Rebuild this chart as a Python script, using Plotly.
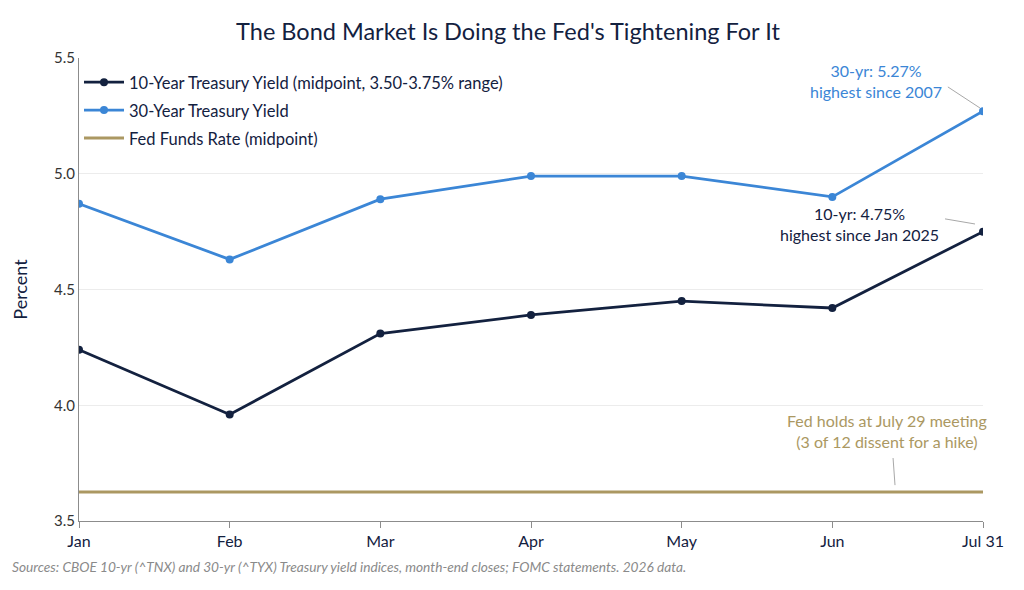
import plotly.graph_objects as go

months = ["Jan", "Feb", "Mar", "Apr", "May", "Jun", "Jul 31"]
ten_year = [4.24, 3.96, 4.31, 4.39, 4.45, 4.42, 4.75]
thirty_year = [4.87, 4.63, 4.89, 4.99, 4.99, 4.90, 5.27]
fed_funds = [3.625] * len(months)
y_ticks = [3.5, 4.0, 4.5, 5.0, 5.5]

NAVY = "#13213f"
BLUE = "#3b86d6"
GOLD = "#ab9862"
FONT = "Lato"

xs = list(range(len(months)))

fig = go.Figure()
fig.add_trace(go.Scatter(x=xs, y=ten_year, mode="lines+markers", legendgroup="a",
                         name="10-Year Treasury Yield (midpoint, 3.50-3.75% range)",
                         line=dict(color=NAVY, width=2.8), marker=dict(size=8, color=NAVY)))
fig.add_trace(go.Scatter(x=xs, y=thirty_year, mode="lines+markers", legendgroup="b",
                         name="30-Year Treasury Yield",
                         line=dict(color=BLUE, width=2.8), marker=dict(size=8, color=BLUE)))
fig.add_trace(go.Scatter(x=xs, y=fed_funds, mode="lines", legendgroup="c",
                         name="Fed Funds Rate (midpoint)",
                         line=dict(color=GOLD, width=3)))

# callout text
fig.add_annotation(x=5.29, y=5.40, text="30-yr: 5.27%<br>highest since 2007",
                   showarrow=False, font=dict(color=BLUE, size=16, family=FONT))
fig.add_annotation(x=5.18, y=4.785, text="10-yr: 4.75%<br>highest since Jan 2025",
                   showarrow=False, font=dict(color=NAVY, size=16, family=FONT))
fig.add_annotation(x=5.363, y=3.889, text="Fed holds at July 29 meeting<br>(3 of 12 dissent for a hike)",
                   showarrow=False, font=dict(color=GOLD, size=16, family=FONT))

# leader lines
for x0, y0, x1, y1 in [(5.767, 5.375, 5.98, 5.284),
                       (5.748, 4.805, 5.947, 4.783),
                       (5.403, 3.772, 5.416, 3.655)]:
    fig.add_shape(type="line", x0=x0, y0=y0, x1=x1, y1=y1,
                  line=dict(color="#a8a8a8", width=1))

fig.add_annotation(x=-0.076, y=-0.099, xref="paper", yref="paper", xanchor="left", yanchor="middle",
                   text="<i>Sources: CBOE 10-yr (^TNX) and 30-yr (^TYX) Treasury yield indices, month-end closes; FOMC statements. 2026 data.</i>",
                   showarrow=False, font=dict(color="#8a8a8a", size=13.7, family=FONT))

fig.update_layout(
    width=1008, height=574,
    paper_bgcolor="white", plot_bgcolor="white",
    margin=dict(l=71, r=33, t=50, b=61),
    font=dict(family=FONT, color=NAVY, size=14),
    title=dict(text="The Bond Market Is Doing the Fed's Tightening For It",
               x=0.496, xanchor="center", y=0.958, yanchor="middle",
               font=dict(size=23.5, color=NAVY, family=FONT)),
    legend=dict(x=0.0, y=0.985, xanchor="left", yanchor="top",
                bgcolor="rgba(255,255,255,0)", font=dict(size=16.5, color=NAVY),
                itemwidth=40, traceorder="grouped", tracegroupgap=3.5),
    showlegend=True,
)
fig.update_xaxes(range=[0, 6], tickvals=xs, ticktext=months, showgrid=False,
                 showline=True, linecolor="#8c8c8c", linewidth=1.2,
                 ticks="outside", tickcolor="#8c8c8c", ticklen=6,
                 tickfont=dict(size=16, color=NAVY), zeroline=False, automargin=False)
fig.update_yaxes(range=[3.5, 5.5], tickvals=y_ticks, tickformat=".1f",
                 showgrid=True, gridcolor="#ececec", gridwidth=1,
                 showline=True, linecolor="#8c8c8c", linewidth=1.2,
                 ticks="", tickfont=dict(size=15, color="#333333"), zeroline=False,
                 automargin=False,
                 title=dict(text="Percent", font=dict(size=18, color=NAVY), standoff=21))

fig.write_html("out.html")
